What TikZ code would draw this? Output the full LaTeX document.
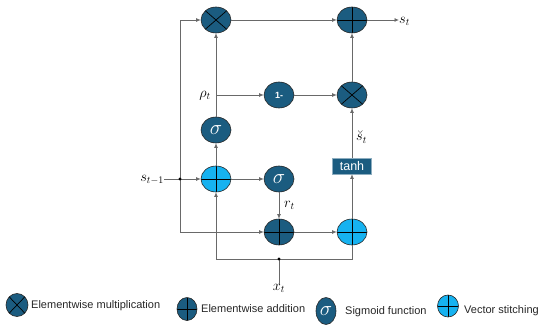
\documentclass[tikz,border=0pt]{standalone}
\usepackage{fontspec}
\setsansfont{Liberation Sans}
\usetikzlibrary{shapes.geometric,arrows.meta}
\definecolor{gateblue}{RGB}{27,92,128}
\definecolor{catblue}{RGB}{22,178,240}
\definecolor{wiregray}{RGB}{105,105,105}
\tikzset{
  op/.style={ellipse,draw=black!85,line width=0.6pt,minimum width=30pt,minimum height=26pt,inner sep=0pt},
  mulop/.style={op,fill=gateblue,
    path picture={\draw[black,line width=0.7pt]
      (path picture bounding box.north west) -- (path picture bounding box.south east)
      (path picture bounding box.north east) -- (path picture bounding box.south west);}},
  addop/.style={op,fill=gateblue,
    path picture={\draw[black,line width=0.7pt]
      (path picture bounding box.north) -- (path picture bounding box.south)
      (path picture bounding box.west) -- (path picture bounding box.east);}},
  catop/.style={addop,fill=catblue},
  sigop/.style={op,fill=gateblue,text=white,font=\huge},
  tanhbox/.style={rectangle,draw=gateblue!50,fill=gateblue,text=white,line width=0.6pt,
    minimum width=39pt,minimum height=16pt,inner sep=0pt,font=\sffamily\fontsize{12.5}{13}\selectfont},
  wire/.style={draw=wiregray,line width=0.8pt},
  lbl/.style={inner sep=0pt,font=\Large},
  legtext/.style={anchor=west,inner sep=0pt,font=\sffamily\fontsize{11}{12}\selectfont,text=black!85}
}
\begin{document}
\begin{tikzpicture}[x=1pt,y=-1pt,>={Latex[length=4.5pt,width=4pt]}]
\useasboundingbox (0,0) rectangle (550,329);
% gates
\node[mulop] (mulA) at (216,20) {};
\node[addop] (addS) at (352,20) {};
\node[op,fill=gateblue,text=white,font=\sffamily\bfseries\small] (oneM) at (279,95) {1-};
\node[mulop] (mulB) at (352,95) {};
\node[sigop] (sigA) at (216,130) {$\sigma$};
\node[tanhbox] (tanh) at (352,166) {tanh};
\node[catop] (catA) at (216,179) {};
\node[sigop] (sigB) at (279,179) {$\sigma$};
\node[addop] (addB) at (279,232) {};
\node[catop] (catB) at (352,232) {};
% inputs, outputs and labels
\node[lbl,anchor=east] (sprev) at (164,180) {$s_{t-1}$};
\node[lbl,anchor=west] (sout) at (399,21) {$s_t$};
\node[lbl] (xin) at (279,288) {$x_t$};
\node[lbl,anchor=east] (rho) at (211,96) {$\rho_t$};
\node[lbl,anchor=west] (rlab) at (284,205) {$r_t$};
\node[lbl,anchor=west] (cand) at (356,137) {$\breve{s}_t$};
\coordinate (ssplit) at (180,179);
\coordinate (rsplit) at (216,95);
\coordinate (xsplit) at (279,259);
% connectors
\draw[wire,->] (sprev.east |- ssplit) -- (catA.west);
\draw[wire,->] (ssplit) |- (mulA.west);
\draw[wire,->] (ssplit) |- (addB.west);
\draw[wire,->] (catA.north) -- (sigA.south);
\draw[wire,->] (sigA.north) -- (mulA.south);
\draw[wire,->] (rsplit) -- (oneM.west);
\draw[wire,->] (oneM.east) -- (mulB.west);
\draw[wire,->] (catA.east) -- (sigB.west);
\draw[wire,->] (sigB.south) -- (addB.north);
\draw[wire,->] (addB.east) -- (catB.west);
\draw[wire,->] (catB.north) -- (tanh.south);
\draw[wire,->] (tanh.north) -- (mulB.south);
\draw[wire,->] (mulB.north) -- (addS.south);
\draw[wire,->] (mulA.east) -- (addS.west);
\draw[wire,->] (addS.east) -- (sout.west |- addS.east);
\draw[wire] (xin.north) -- (xsplit);
\draw[wire,->] (xsplit) -| (catA.south);
\draw[wire] (xsplit) -| (catB.south);
\fill[black] (ssplit) circle (1.6pt) (xsplit) circle (1.6pt);
% legend
\node[mulop,minimum width=22pt,minimum height=23pt] (legmul) at (17,305) {};
\node[legtext] (legmultxt) at (31,306) {Elementwise multiplication};
\node[addop,minimum width=20pt,minimum height=23pt] (legadd) at (187,309) {};
\node[legtext] (legaddtxt) at (201,309) {Elementwise addition};
\node[sigop,minimum width=20pt,minimum height=27pt] (legsig) at (326,311) {$\sigma$};
\node[legtext] (legsigtxt) at (345,312) {Sigmoid function};
\node[catop,minimum width=21pt,minimum height=22pt] (legcat) at (448,306) {};
\node[legtext] (legcattxt) at (464,311) {Vector stitching};
\end{tikzpicture}
\end{document}
